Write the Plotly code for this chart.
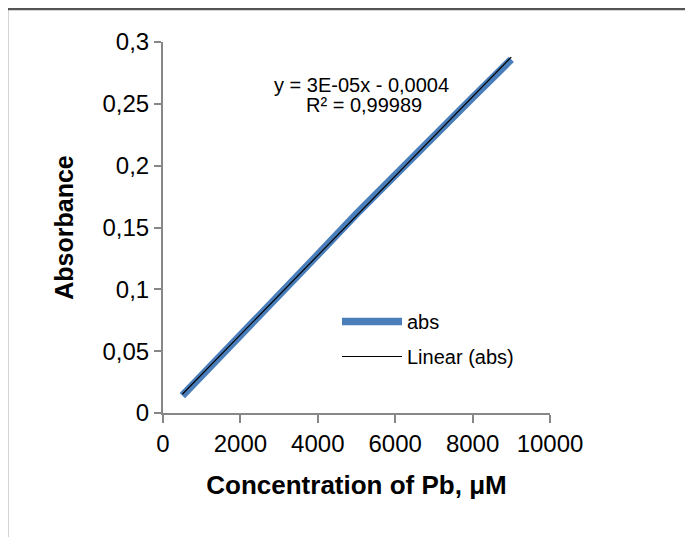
import numpy as np
import plotly.graph_objects as go

# Data
conc = [500, 1000, 2000, 2500, 3000, 4000, 5000, 6000, 7000, 8000, 9000]
absorb = [0.014, 0.030, 0.063, 0.080, 0.096, 0.128, 0.161, 0.193, 0.224, 0.255, 0.286]
x_ticks = [0, 2000, 4000, 6000, 8000, 10000]
x_tick_labels = ["0", "2000", "4000", "6000", "8000", "10000"]
y_ticks = [0, 0.05, 0.1, 0.15, 0.2, 0.25, 0.3]
y_tick_labels = ["0", "0,05", "0,1", "0,15", "0,2", "0,25", "0,3"]
eq_line1 = "y = 3E-05x - 0,0004"
eq_line2 = "R² = 0,99989"

slope, intercept = np.polyfit(conc, absorb, 1)
fit_x = [min(conc), max(conc)]
fit_y = [slope * v + intercept for v in fit_x]

# page has an 8px body margin; figure sized to fit the window
OFF = 8
W, H = 693 - OFF, 537 - OFF
L, T = 163 - OFF, 42 - OFF
R = W - (550 - OFF)
B = H - (413 - OFF)
pw, ph = W - L - R, H - T - B

def px(xp):  # page x -> paper x
    return (xp - OFF - L) / pw

def py(yp):  # page y -> paper y
    return (H - B - (yp - OFF)) / ph

FONT = "Liberation Sans, Arial, sans-serif"
AX = "#878787"

fig = go.Figure()
fig.add_trace(go.Scatter(x=conc, y=absorb, mode="lines", name="abs", legendgroup="a",
                         line=dict(color="#4A7EBB", width=7.5)))
fig.add_trace(go.Scatter(x=fit_x, y=fit_y, mode="lines", name="Linear (abs)", legendgroup="b",
                         line=dict(color="black", width=1.2)))

fig.update_layout(
    width=W, height=H,
    margin=dict(l=L, r=R, t=T, b=B),
    paper_bgcolor="white", plot_bgcolor="white",
    font=dict(family=FONT, size=24, color="black"),
    showlegend=True,
    legend=dict(x=px(337), y=py(302), xanchor="left", yanchor="top",
                bgcolor="rgba(0,0,0,0)", font=dict(size=20), itemwidth=60,
                tracegroupgap=6),
    xaxis=dict(range=[0, 10000], tickvals=x_ticks, ticktext=x_tick_labels,
               showgrid=False, zeroline=False, showline=True, linecolor=AX, linewidth=2,
               ticks="outside", ticklen=8, tickcolor=AX, tickwidth=2,
               tickfont=dict(size=24),
               title=dict(text="<b>Concentration of Pb, μM</b>", font=dict(size=26), standoff=20)),
    yaxis=dict(range=[0, 0.3], tickvals=y_ticks, ticktext=y_tick_labels,
               showgrid=False, zeroline=False, showline=True, linecolor=AX, linewidth=2,
               ticks="outside", ticklen=7, tickcolor=AX, tickwidth=2,
               tickfont=dict(size=24),
               title=dict(text="<b>Absorbance</b>", font=dict(size=25), standoff=22)),
)

fig.add_annotation(x=px(361), y=py(85), xref="paper", yref="paper",
                   text=eq_line1, showarrow=False, font=dict(size=20),
                   xanchor="center", yanchor="middle")
fig.add_annotation(x=px(364), y=py(105), xref="paper", yref="paper",
                   text=eq_line2, showarrow=False, font=dict(size=20),
                   xanchor="center", yanchor="middle")

# outer frame (top and left edges)
fx0 = px(7)
fy1 = py(9)
fig.add_shape(type="line", xref="paper", yref="paper", x0=fx0, x1=px(700),
              y0=fy1, y1=fy1, line=dict(color="#555555", width=2.5))
fig.add_shape(type="line", xref="paper", yref="paper", x0=fx0, x1=fx0,
              y0=fy1, y1=py(545), line=dict(color="#555555", width=2.5))

fig.write_html("out.html")
